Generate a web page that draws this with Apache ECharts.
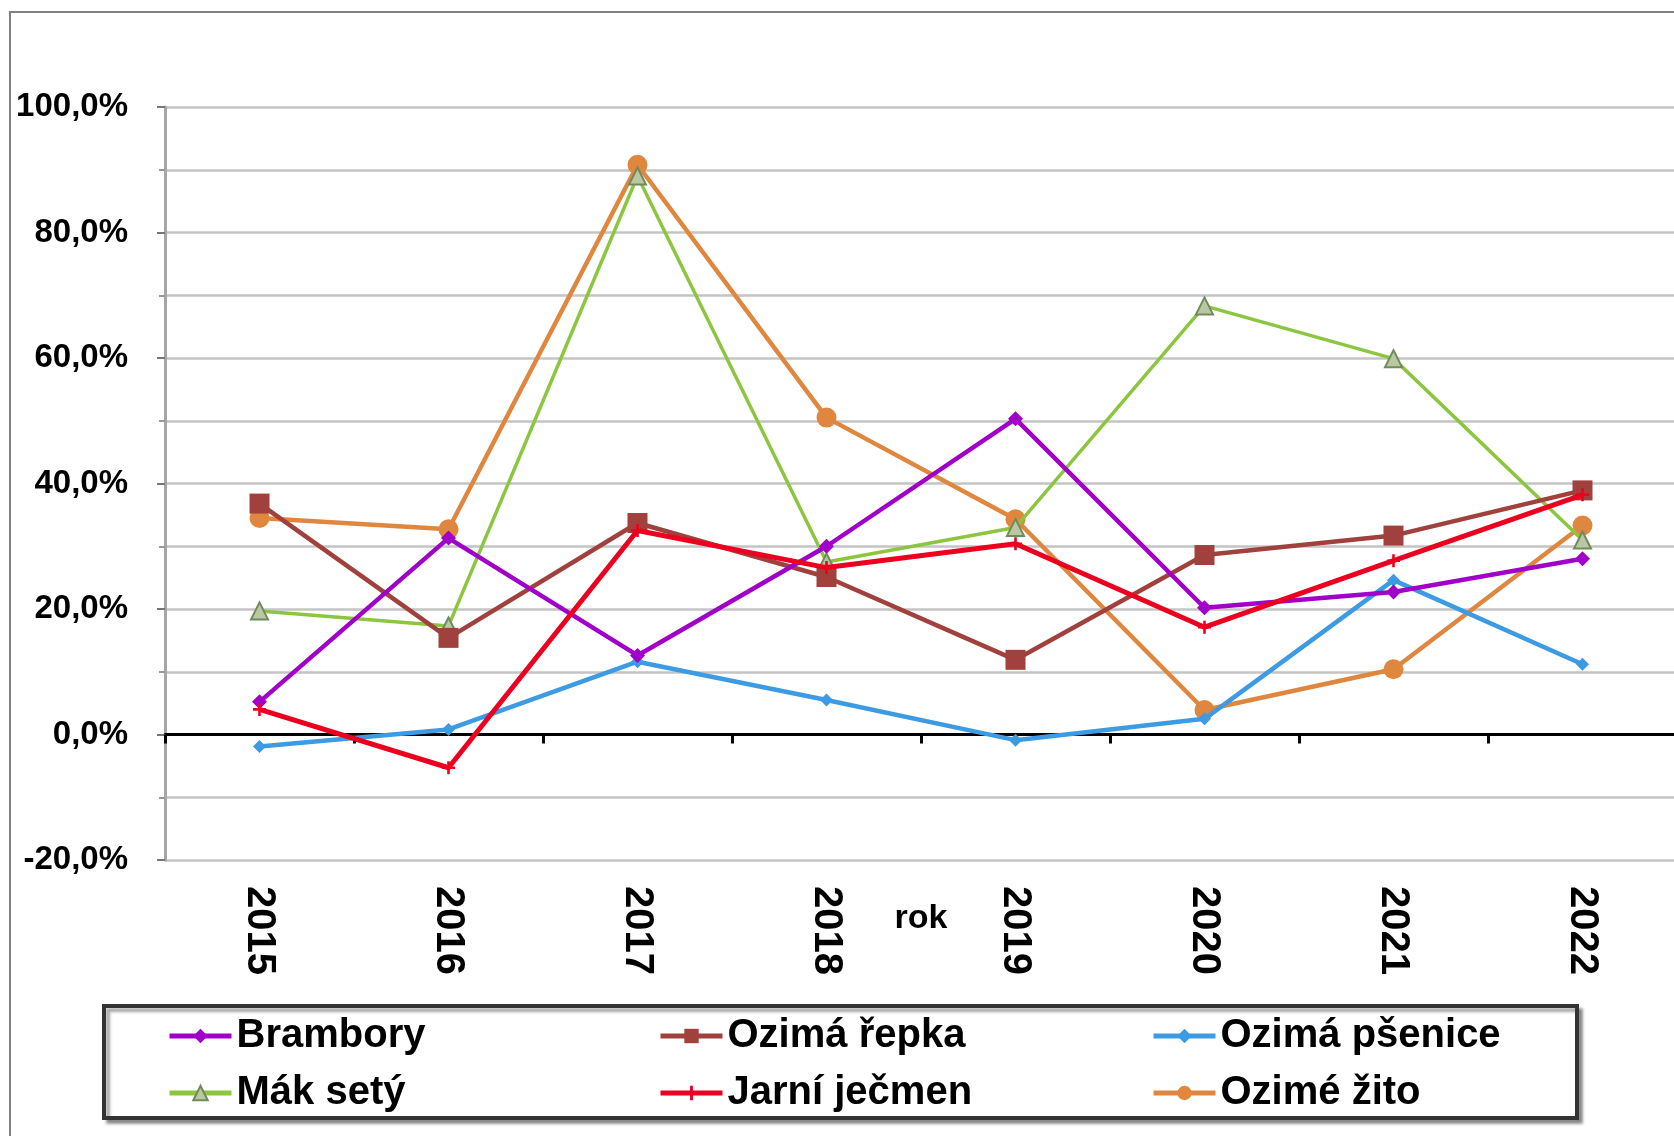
<!DOCTYPE html>
<html>
<head>
<meta charset="utf-8">
<script src="https://cdn.jsdelivr.net/npm/echarts@6/dist/echarts.min.js"></script>
<style>
html,body{margin:0;padding:0;background:#fff;}
#chart{width:1674px;height:1136px;}
</style>
</head>
<body>
<div id="chart"></div>
<script>
const years = ['2015','2016','2017','2018','2019','2020','2021','2022'];
const yTicks = [-20, 0, 20, 40, 60, 80, 100];
const brambory      = [5.2, 31.3, 12.6, 30.0, 50.3, 20.2, 22.7, 28.0];
const ozimaRepka    = [36.8, 15.4, 33.7, 25.1, 11.9, 28.6, 31.7, 38.9];
const ozimaPsenice  = [-1.9, 0.8, 11.6, 5.5, -0.9, 2.5, 24.6, 11.2];
const makSety       = [19.7, 17.3, 89.0, 27.5, 33.0, 68.3, 59.9, 31.0];
const jarniJecmen   = [4.0, -5.3, 32.5, 26.6, 30.4, 17.1, 27.7, 38.2];
const ozimeZito     = [34.5, 32.7, 90.8, 50.5, 34.3, 3.9, 10.4, 33.3];

const FONT = '"Liberation Sans", Arial, sans-serif';
const chart = echarts.init(document.getElementById('chart'));

function mk(name, data, color, lw, symbol, size, extra) {
  return Object.assign({
    name: name, type: 'line', xAxisIndex: 0, yAxisIndex: 0,
    data: data, symbol: symbol, symbolSize: size, showSymbol: true,
    lineStyle: {color: color, width: lw},
    itemStyle: {color: color, borderWidth: 0},
    emphasis: {disabled: true}, animation: false
  }, extra || {});
}

const legendBase = {
  orient: 'vertical', itemWidth: 62, itemHeight: 18, itemGap: 11, padding: 0,
  textStyle: {fontFamily: FONT, fontWeight: 'bold', fontSize: 40, color: '#000', lineHeight: 46},
  lineStyle: {width: 5},
  selectedMode: false
};

chart.setOption({
  backgroundColor: '#fff',
  animation: false,
  graphic: [
    {type: 'rect', shape: {x: 10, y: 12, width: 1700, height: 1200}, style: {fill: 'none', stroke: '#808080', lineWidth: 2}, z: -10},
    {type: 'rect', shape: {x: 104, y: 1006, width: 1473, height: 112},
     style: {fill: '#fff', stroke: '#333', lineWidth: 4, shadowColor: 'rgba(0,0,0,0.35)', shadowOffsetX: 4, shadowOffsetY: 4, shadowBlur: 3}, z: -5}
  ],
  grid: {left: 165, top: 107, right: -3, bottom: 276, containLabel: false, outerBoundsMode: 'none'},
  legend: [
    Object.assign({}, legendBase, {left: 167, top: 1013, data: ['Brambory', 'Mák setý']}),
    Object.assign({}, legendBase, {left: 658, top: 1013, data: ['Ozimá řepka', 'Jarní ječmen']}),
    Object.assign({}, legendBase, {left: 1151, top: 1013, data: ['Ozimá pšenice', 'Ozimé žito']})
  ],
  xAxis: [
    {
      type: 'category', data: years, boundaryGap: true, position: 'bottom',
      axisLine: {show: false, onZero: false}, axisTick: {show: false},
      axisLabel: {rotate: -90, margin: 26, fontFamily: FONT, fontWeight: 'bold', fontSize: 40, color: '#000'},
      splitLine: {show: false},
      name: 'rok', nameLocation: 'middle', nameGap: 42, nameMoveOverlap: false,
      nameTextStyle: {fontFamily: FONT, fontWeight: 'bold', fontSize: 34, color: '#000'}
    },
    {
      type: 'category', data: years, boundaryGap: true, position: 'bottom',
      axisLine: {show: true, onZero: true, lineStyle: {color: '#000', width: 3}},
      axisTick: {show: true, length: 9, lineStyle: {color: '#000', width: 3}},
      axisLabel: {show: false}, splitLine: {show: false}
    }
  ],
  yAxis: {
    type: 'value', min: yTicks[0], max: yTicks[yTicks.length - 1], interval: 20,
    axisLine: {show: true, lineStyle: {color: '#A6A6A6', width: 3}},
    axisTick: {show: true, length: 8, lineStyle: {color: '#777', width: 2}},
    minorTick: {show: true, splitNumber: 2, length: 6, lineStyle: {color: '#999', width: 2}},
    splitLine: {show: true, lineStyle: {color: '#C4C4C4', width: 2.5}},
    minorSplitLine: {show: true, lineStyle: {color: '#C4C4C4', width: 2.5}},
    axisLabel: {
      margin: 37, fontFamily: FONT, fontWeight: 'bold', fontSize: 33, color: '#000',
      formatter: v => v.toFixed(1).replace('.', ',') + '%'
    }
  },
  series: [
    mk('Ozimé žito', ozimeZito, '#E0873F', 4.5, 'circle', 20, {z: 2}),
    mk('Mák setý', makSety, '#8CC640', 3.5, 'triangle', 17, {z: 3,
      itemStyle: {color: '#B9C8A3', borderColor: '#718A5C', borderWidth: 2}}),
    mk('Ozimá řepka', ozimaRepka, '#A1413D', 4.5, 'rect', 20, {z: 4}),
    mk('Ozimá pšenice', ozimaPsenice, '#3C9BE2', 4.5, 'diamond', 13, {z: 5}),
    mk('Brambory', brambory, '#A000C8', 4.5, 'diamond', 15, {z: 6}),
    mk('Jarní ječmen', jarniJecmen, '#EC0020', 5, 'path://M4,0H6V4H10V6H6V10H4V6H0V4H4Z', 13, {z: 7})
  ]
});
</script>
</body>
</html>
